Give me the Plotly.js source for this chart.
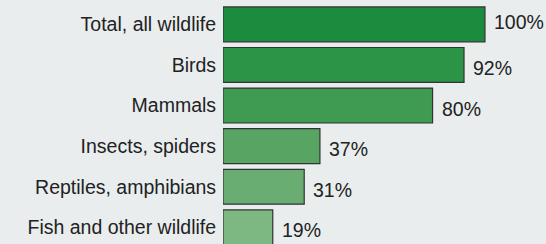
<!DOCTYPE html>
<html>
<head>
<meta charset="utf-8">
<script src="https://cdn.plot.ly/plotly-3.0.1.min.js"></script>
<style>
html,body{margin:0;padding:0;background:#e9edee;}
#chart{width:546px;height:244px;}
</style>
</head>
<body>
<div id="chart"></div>
<script>
const categories = ["Total, all wildlife", "Birds", "Mammals", "Insects, spiders", "Reptiles, amphibians", "Fish and other wildlife"];
const values = [100, 92, 80, 37, 31, 19];
const valueLabels = ["100%", "92%", "80%", "37%", "31%", "19%"];
const barColors = ["#1b8c3d", "#2c9447", "#3f9a52", "#58a563", "#6aad72", "#7db882"];

const FONT = "Liberation Sans, Arial, sans-serif";

const trace = {
  type: "bar",
  orientation: "h",
  y: categories,
  x: values,
  marker: {color: barColors, line: {color: "#333333", width: 1.2}},
  hoverinfo: "none"
};

const annotations = categories.map((c, i) => ({
  x: values[i], y: c, xref: "x", yref: "y",
  text: valueLabels[i], showarrow: false,
  xanchor: "left", yanchor: "middle", xshift: 7, yshift: i === 0 ? 2 : -3,
  font: {family: FONT, size: 19.5, color: "#222"}
}));

const layout = {
  width: 546, height: 244,
  margin: {l: 223, r: 0, t: 0, b: 0, pad: 0},
  paper_bgcolor: "rgba(0,0,0,0)",
  plot_bgcolor: "rgba(0,0,0,0)",
  bargap: 0.14,
  showlegend: false,
  annotations: annotations,
  font: {family: FONT, size: 19.5, color: "#222"},
  xaxis: {range: [0, 123.3], showgrid: false, zeroline: false, showticklabels: false, showline: false, fixedrange: true},
  yaxis: {type: "category", range: [5.41, -0.6], showgrid: false, zeroline: false, showline: false,
          ticks: "outside", ticklen: 2, tickcolor: "rgba(0,0,0,0)",
          tickfont: {family: FONT, size: 19.5, color: "#222"}, fixedrange: true}
};

Plotly.newPlot("chart", [trace], layout, {displayModeBar: false, staticPlot: true});
</script>
</body>
</html>
